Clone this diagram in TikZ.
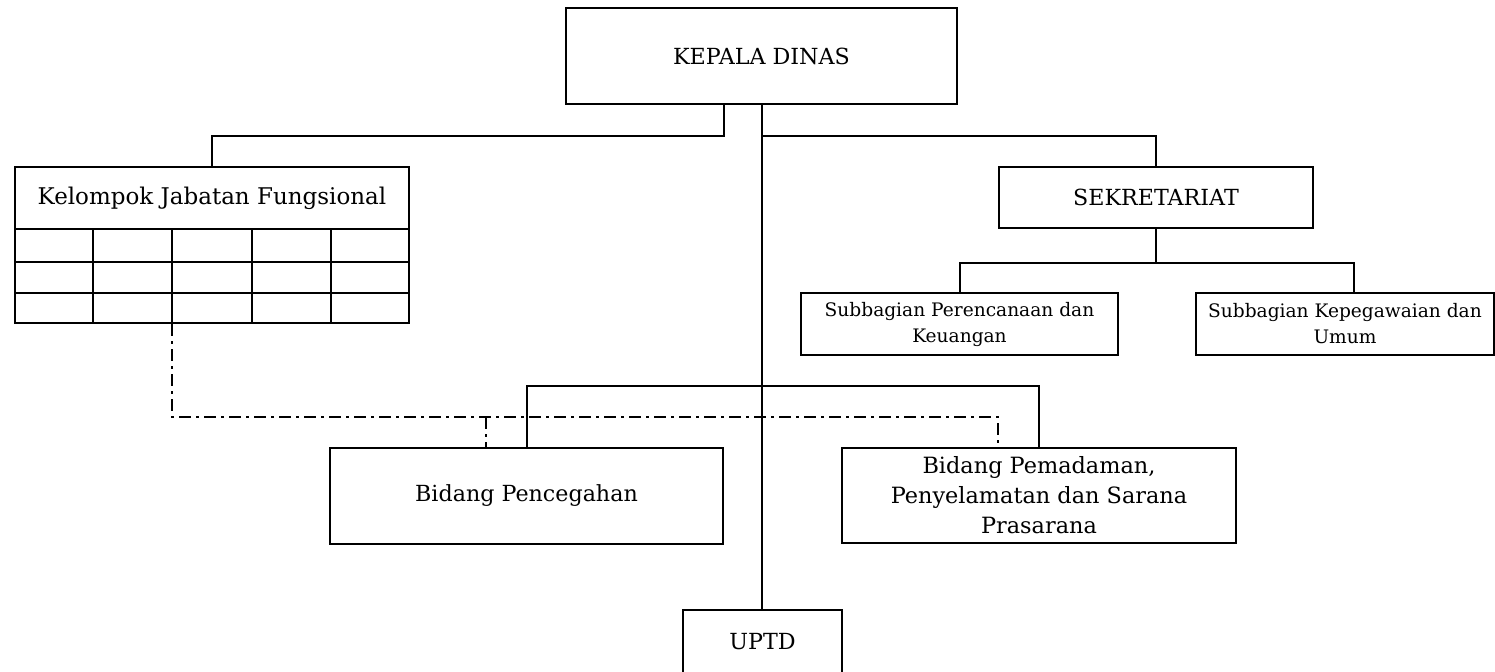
\documentclass[tikz,border=0pt]{standalone}
\usepackage{fontspec}
\setmainfont{DejaVu Serif}
\usetikzlibrary{calc}
\begin{document}
\begin{tikzpicture}[x=0.5pt,y=-0.5pt,
  line width=1pt,
  box/.style={draw, line width=1pt, inner sep=0pt, align=center, font=\fontsize{11.1}{13}\selectfont},
  smalltext/.style={font=\fontsize{9.3}{13}\selectfont},
  ddash/.style={line width=1pt, dash pattern=on 6pt off 2.5pt on 1.5pt off 2.5pt},
  link/.style={line width=1pt},
]
\clip (0,0) rectangle (1495,671);
\fill[white] (0,0) rectangle (1495,671);
% nodes
\node[box, minimum width=195.5pt, minimum height=48pt] (kd) at (761.5,56) {KEPALA DINAS};
\node[box, font=\fontsize{11.5}{13}\selectfont, minimum width=197pt, minimum height=31pt] (kjf) at (212,198) {Kelompok Jabatan Fungsional};
\node[box, minimum width=197pt, minimum height=47pt] (tbl) at (212,276) {};
\node[box, minimum width=157pt, minimum height=30.5pt] (sek) at (1156,197.5) {SEKRETARIAT};
\node[box, smalltext, minimum width=158.5pt, minimum height=31pt] (sub1) at (959.5,324) {Subbagian Perencanaan dan\\Keuangan};
\node[box, smalltext, minimum width=149pt, minimum height=31pt] (sub2) at (1345,324) {Subbagian Kepegawaian dan\\Umum};
\node[box, minimum width=196.5pt, minimum height=48pt] (bp) at (526.5,496) {Bidang Pencegahan};
\node[box, font=\fontsize{11.2}{15}\selectfont, minimum width=197pt, minimum height=47.5pt] (bpm) at (1039,495.5) {Bidang Pemadaman,\\Penyelamatan dan Sarana\\Prasarana};
\node[box, minimum width=79.5pt, minimum height=32pt] (uptd) at (762.5,642) {UPTD};
% table grid
\foreach \f in {0.2,0.4,0.6,0.8}
  \draw[link] ($(tbl.north west)!\f!(tbl.north east)$) -- ($(tbl.south west)!\f!(tbl.south east)$);
\foreach \f in {0.351,0.681}
  \draw[link] ($(tbl.north west)!\f!(tbl.south west)$) -- ($(tbl.north east)!\f!(tbl.south east)$);
% connectors
\coordinate (j1) at (762,136);
\draw[link] (kd.south) -- (kd.south |- uptd.north);
\draw[link] ([shift={(-37.5,0)}]kd.south) |- (kjf.north |- j1) -- (kjf.north);
\draw[link] (j1) -| (sek.north);
\coordinate (j2) at ($(sek.south)+(0,34)$);
\coordinate (s2top) at ([shift={(9,0)}]sub2.north);
\draw[link] (sek.south) -- (j2);
\draw[link] (sub1.north) |- (s2top |- j2) -- (s2top);
\coordinate (j3) at (762,386);
\draw[link] (bp.north) -- (bp.north |- j3) -- (bpm.north |- j3) -- (bpm.north);
% dash-dot functional link
\coordinate (c3) at ($(tbl.south west)!0.4!(tbl.south east)$);
\coordinate (j4) at (172,417);
\coordinate (bpd) at ([shift={(157,0)}]bp.north west);
\coordinate (bpmd) at ([shift={(157,0)}]bpm.north west);
\draw[ddash] (c3) -- (c3 |- j4) -- (bpmd |- j4) -- (bpmd);
\draw[ddash] (bpd |- j4) -- (bpd);
\end{tikzpicture}
\end{document}
